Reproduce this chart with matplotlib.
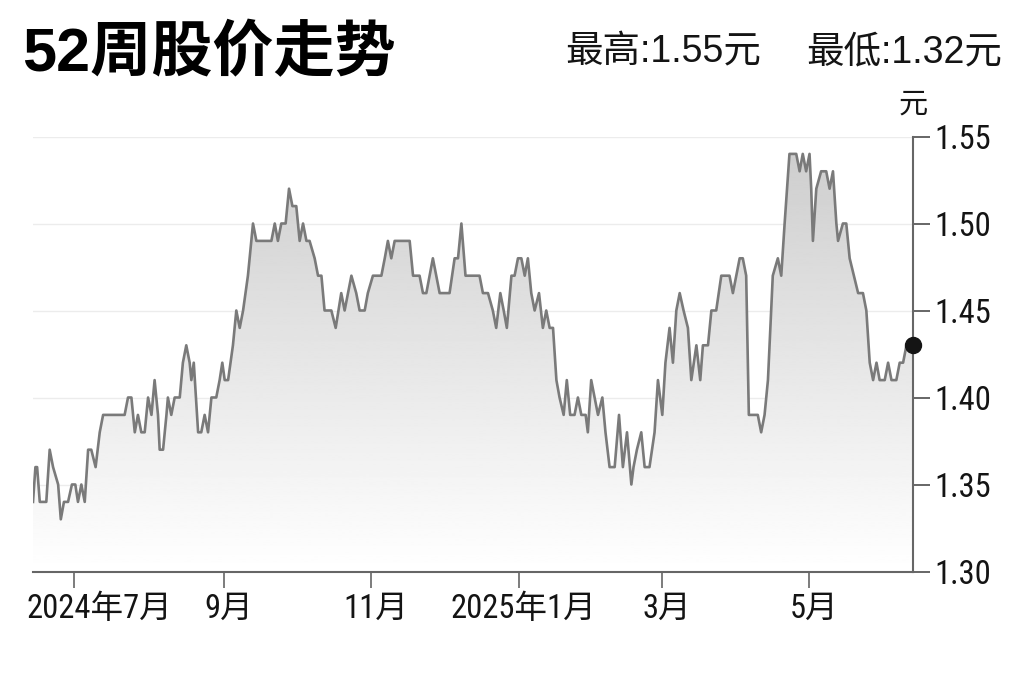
"""52周股价走势: price line with grey gradient fill, axis on the right."""

import matplotlib

matplotlib.use("Agg")
import matplotlib.dates as mdates
import matplotlib.pyplot as plt
import matplotlib.transforms as mtransforms
import numpy as np
import pandas as pd
from matplotlib import font_manager

# ---- data ------------------------------------------------------------------
START = "2024-06-14"

day_offsets = [
    0, 1, 1.7, 2.8, 5.5, 6.9, 8.3, 10.4, 11.5, 12.8, 14.5, 16.1, 17.5, 18.6, 20.0,
    21.4, 22.8, 24.1, 25.9, 27.6, 29.0, 37.9, 39.3, 40.7, 42.1, 43.4, 44.8, 46.2,
    47.6, 49.0, 50.3, 51.7, 52.4, 53.8, 55.2, 55.8, 57.2, 58.6, 60.7, 62.0, 63.4,
    64.8, 65.5, 66.5, 68.3, 69.6, 71.0, 72.4, 73.8, 75.8, 77.2, 78.3, 79.3, 80.7,
    82.7, 84.1, 85.5, 86.9, 88.9, 91.0, 92.4,
    93.1, 98.6, 100.0, 101.3, 102.7, 104.5, 105.9, 107.3, 108.9, 110.3, 111.7,
    113.1, 114.4, 116.5, 117.9, 119.3, 120.6, 123.4, 125.2, 127.5, 128.9, 131.7,
    133.7, 135.1, 137.2, 138.5, 140.6, 144.1, 145.5, 146.8, 148.2, 149.6, 155.8,
    157.2, 159.9, 161.3, 162.7, 165.4, 168.2, 172.3, 174.4, 175.8, 177.2, 178.9,
    184.7,
    186.1, 188.2, 190.2, 191.6, 193.3, 194.7, 196.0, 197.9, 199.2, 200.6, 202.0,
    203.4, 204.7, 206.1, 207.5, 209.3, 210.9, 212.3, 213.7, 215.1, 216.5, 217.8,
    219.5, 220.8, 222.2, 224.0, 225.4, 226.8, 228.6, 229.5, 230.9, 232.3, 233.7,
    235.5, 236.8, 238.5, 240.6, 242.4, 244.0, 245.7, 247.5, 248.4, 249.8, 251.6,
    253.0, 255.0, 257.1, 258.5, 260.3, 261.6, 263.3, 264.7, 266.1, 267.5, 269.1,
    270.9, 272.3, 274.4, 276.0,
    277.1, 279.2, 280.6, 282.6, 284.7, 288.1, 289.5, 290.9, 292.3, 293.6, 295.0,
    296.1, 298.5, 299.8, 301.2, 302.6, 304.0, 306.0, 308.1, 309.5, 310.9, 312.9,
    315.7, 317.1, 318.4, 319.8, 321.2, 321.9, 322.6, 324.0, 326.0, 328.1, 329.5,
    330.9, 332.3, 333.0, 335.0, 336.4, 337.8, 341.3, 343.3, 344.7, 346.1, 347.5,
    348.9, 350.2, 352.3, 353.7, 355.1, 357.1, 358.5, 359.9, 361.3, 364.0,
]

prices = [
    1.34, 1.36, 1.36, 1.34, 1.34, 1.37, 1.36, 1.35, 1.33, 1.34, 1.34, 1.35, 1.35, 1.34, 1.35,
    1.34, 1.37, 1.37, 1.36, 1.38, 1.39, 1.39, 1.40, 1.40, 1.38, 1.39, 1.38, 1.38,
    1.40, 1.39, 1.41, 1.39, 1.37, 1.37, 1.39, 1.40, 1.39, 1.40, 1.40, 1.42, 1.43,
    1.42, 1.41, 1.42, 1.38, 1.38, 1.39, 1.38, 1.40, 1.40, 1.41, 1.42, 1.41, 1.41,
    1.43, 1.45, 1.44, 1.45, 1.47, 1.50, 1.49,
    1.49, 1.49, 1.50, 1.49, 1.50, 1.50, 1.52, 1.51, 1.51, 1.49, 1.50,
    1.49, 1.49, 1.48, 1.47, 1.47, 1.45, 1.45, 1.44, 1.46, 1.45, 1.47,
    1.46, 1.45, 1.45, 1.46, 1.47, 1.47, 1.48, 1.49, 1.48, 1.49, 1.49,
    1.47, 1.47, 1.46, 1.46, 1.48, 1.46, 1.46, 1.48, 1.48, 1.50, 1.47,
    1.47,
    1.46, 1.46, 1.45, 1.44, 1.46, 1.45, 1.44, 1.47, 1.47, 1.48, 1.48,
    1.47, 1.48, 1.46, 1.45, 1.46, 1.44, 1.45, 1.44, 1.44, 1.41, 1.40,
    1.39, 1.41, 1.39, 1.39, 1.40, 1.39, 1.39, 1.38, 1.41, 1.40, 1.39,
    1.40, 1.38, 1.36, 1.36, 1.39, 1.36, 1.38, 1.35, 1.36, 1.37, 1.38,
    1.36, 1.36, 1.38, 1.41, 1.39, 1.42, 1.44, 1.42, 1.45, 1.46, 1.45,
    1.44, 1.41, 1.43, 1.41,
    1.43, 1.43, 1.45, 1.45, 1.47, 1.47, 1.46, 1.47, 1.48, 1.48, 1.47,
    1.39, 1.39, 1.39, 1.38, 1.39, 1.41, 1.47, 1.48, 1.47, 1.50, 1.54,
    1.54, 1.53, 1.54, 1.53, 1.54, 1.52, 1.49, 1.52, 1.53, 1.53, 1.52,
    1.53, 1.50, 1.49, 1.50, 1.50, 1.48, 1.46, 1.46, 1.45, 1.42, 1.41,
    1.42, 1.41, 1.41, 1.42, 1.41, 1.41, 1.42, 1.42, 1.43, 1.43,
]

tick_dates = ["2024-07-01", "2024-09-01", "2024-11-01", "2025-01-01", "2025-03-01", "2025-05-01"]
tick_labels = ["2024年7月", "9月", "11月", "2025年1月", "3月", "5月"]
y_ticks = [1.30, 1.35, 1.40, 1.45, 1.50, 1.55]

TITLE = "52周股价走势"
HIGH_LABEL = "最高:1.55元"
LOW_LABEL = "最低:1.32元"
UNIT = "元"

# ---- style -------------------------------------------------------------------
LINE_GREY = "#7a7a7a"
AXIS_GREY = "#666666"
GRID_GREY = "#ececec"
INK = "#141414"

_names = {f.name for f in font_manager.fontManager.ttflist}
NARROW = next(
    (n for n in ("Liberation Sans Narrow", "Arial Narrow", "Roboto Condensed", "Archivo Narrow",
                 "Pragati Narrow", "Barlow Semi Condensed", "Liberation Sans")
     if n in _names),
    "DejaVu Sans",
)
CJK = "Noto Sans CJK SC"
MIXED = [NARROW, CJK]
PLAIN = ["Liberation Sans", CJK]


def main() -> None:
    fig = plt.figure(figsize=(10.24, 6.82), dpi=100)
    fig.patch.set_facecolor("white")
    ax = fig.add_axes([33 / 1024, 1 - 571.5 / 682, 880 / 1024, 435 / 682])

    x0 = mdates.date2num(pd.Timestamp(START))
    xs = x0 + np.asarray(day_offsets, dtype=float)
    ys = np.asarray(prices)
    ymin, ymax = y_ticks[0], y_ticks[-1]

    # grey gradient under the line, darker towards the top
    grad = 1.0 - 0.20 * np.linspace(0, 1, 256).reshape(-1, 1)
    img = ax.imshow(grad, cmap="gray", vmin=0, vmax=1, origin="lower", aspect="auto",
                    extent=[xs[0], xs[-1], ymin, ymax], zorder=1, interpolation="bilinear")
    area = ax.fill_between(xs, ys, ymin, facecolor="none", edgecolor="none")
    img.set_clip_path(area.get_paths()[0], transform=ax.transData)

    ax.plot(xs, ys, color=LINE_GREY, linewidth=1.9, zorder=3, solid_joinstyle="round")
    ax.plot(xs[-1], ys[-1], "o", color=INK, markersize=11.5, zorder=5, clip_on=False)

    ax.set_xlim(xs[0], xs[-1])
    ax.set_ylim(ymin, ymax)

    # spines / axes
    for side in ("left", "top"):
        ax.spines[side].set_visible(False)
    for side in ("right", "bottom"):
        ax.spines[side].set_color(AXIS_GREY)
        ax.spines[side].set_linewidth(1.5)
        ax.spines[side].set_zorder(4)

    ax.yaxis.tick_right()
    ax.set_yticks(y_ticks)
    ax.set_yticklabels([f"{v:.2f}" for v in y_ticks], family=MIXED, fontsize=23.5, color=INK)
    ax.tick_params(axis="y", direction="out", length=12.5, width=1.4, color=AXIS_GREY, pad=3)
    ax.yaxis.grid(True, color=GRID_GREY, linewidth=1.0)
    ax.set_axisbelow(True)

    tick_x = [mdates.date2num(pd.Timestamp(d)) for d in tick_dates]
    ax.set_xticks(tick_x)
    ax.set_xticklabels([])
    ax.tick_params(axis="x", direction="out", length=11.5, width=1.2, color=AXIS_GREY)

    trans = mtransforms.blended_transform_factory(ax.transData, ax.transAxes)
    for i, (tx, lab) in enumerate(zip(tick_x, tick_labels)):
        if i == 0:
            ax.text(-0.007, -0.05, lab, transform=ax.transAxes, ha="left", va="top",
                    family=MIXED, fontsize=23.5, color=INK)
        else:
            ax.text(tx + 2, -0.05, lab, transform=trans, ha="center", va="top",
                    family=MIXED, fontsize=23.5, color=INK)

    # headings
    fig.text(22 / 1024, 1 - 71 / 682, TITLE, family=PLAIN,
             fontweight="bold", fontsize=44, color="black", ha="left", va="baseline")
    fig.text(565 / 1024, 1 - 62 / 682, HIGH_LABEL, family=PLAIN, fontsize=27,
             color=INK, ha="left", va="baseline")
    fig.text(1002 / 1024, 1 - 62 / 682, LOW_LABEL, family=PLAIN, fontsize=27,
             color=INK, ha="right", va="baseline")
    fig.text(913 / 1024, 1 - 113 / 682, UNIT, family=[CJK], fontsize=21,
             color=INK, ha="center", va="baseline")

    fig.savefig("out.png", dpi=100, facecolor="white")
    plt.close(fig)


if __name__ == "__main__":
    main()
